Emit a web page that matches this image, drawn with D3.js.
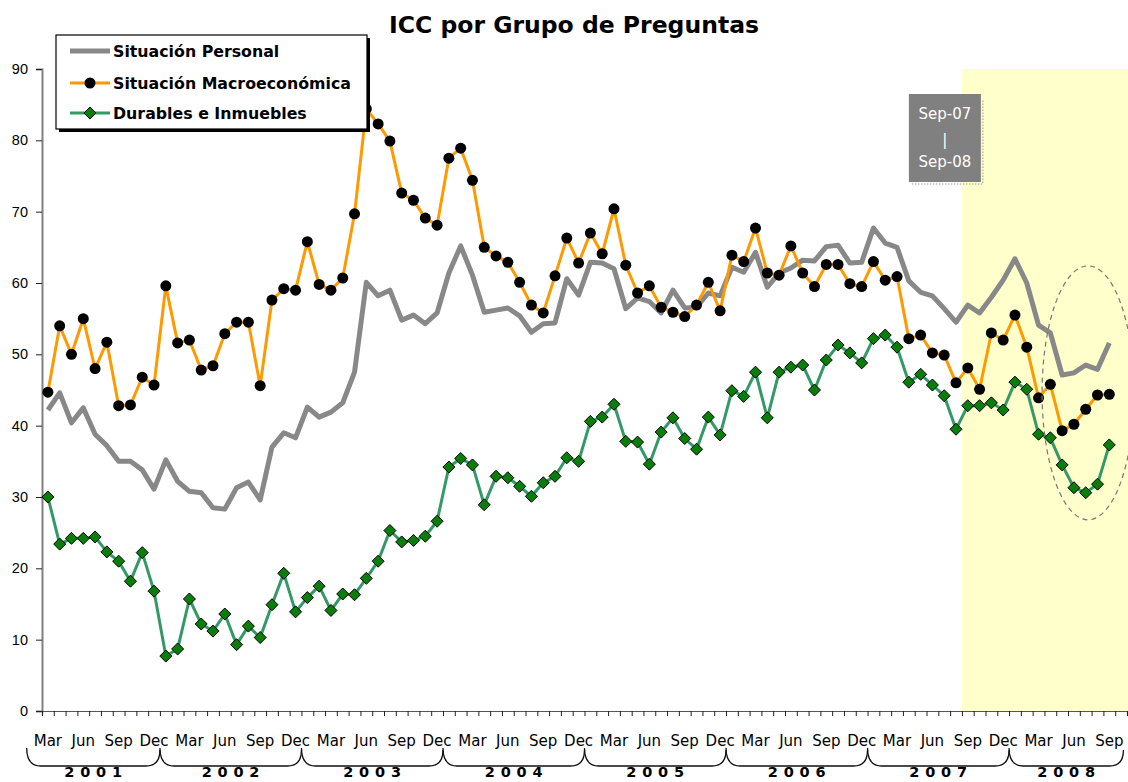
<!DOCTYPE html>
<html>
<head>
<meta charset="utf-8">
<script src="https://cdn.jsdelivr.net/npm/d3@7"></script>
<style>
  body { margin: 0; background: #fff; }
  svg { display: block; font-family: "DejaVu Sans", sans-serif; }
</style>
</head>
<body>
<div id="chart"></div>
<script>
// categories
const monthNames = ["Jan","Feb","Mar","Apr","May","Jun","Jul","Aug","Sep","Oct","Nov","Dec"];
const years = [2001, 2002, 2003, 2004, 2005, 2006, 2007, 2008];
const labelMonths = ["Mar", "Jun", "Sep", "Dec"];

// Mar 2001 .. Sep 2008
const personal = [
  42.2, 44.6, 40.4, 42.5, 38.8, 37.2, 35.0, 35.0, 33.8, 31.1,
  35.2, 32.2, 30.8, 30.6, 28.5, 28.3, 31.3, 32.1, 29.6, 37.0, 39.0, 38.3,
  42.6, 41.2, 41.9, 43.2, 47.5, 60.1, 58.2, 59.0, 54.8, 55.5, 54.3, 55.8,
  61.4, 65.2, 61.1, 55.9, 56.2, 56.5, 55.4, 53.1, 54.3, 54.4, 60.6, 58.3,
  62.9, 62.8, 62.0, 56.4, 57.9, 57.4, 55.8, 59.0, 56.5, 56.6, 58.6, 58.2,
  62.2, 61.5, 64.3, 59.4, 61.4, 62.1, 63.2, 63.1, 65.1, 65.3, 62.8, 62.9,
  67.7, 65.6, 65.0, 60.3, 58.7, 58.2, 56.4, 54.5, 56.9, 55.8, 58.0, 60.4,
  63.4, 60.0, 54.1, 53.0, 47.1, 47.4, 48.5, 47.9, 51.6
];
const macro = [
  44.7, 54.0, 50.0, 55.0, 48.0, 51.7, 42.8, 42.9, 46.8, 45.7,
  59.6, 51.6, 52.0, 47.8, 48.4, 52.9, 54.5, 54.5, 45.6, 57.6, 59.2, 59.0,
  65.8, 59.8, 59.0, 60.7, 69.7, 84.4, 82.3, 79.9, 72.6, 71.6, 69.1, 68.1,
  77.5, 78.9, 74.4, 65.0, 63.8, 62.9, 60.1, 56.9, 55.8, 61.0, 66.3, 62.8,
  67.0, 64.1, 70.4, 62.5, 58.6, 59.6, 56.6, 55.9, 55.3, 56.9, 60.1, 56.1,
  63.9, 63.0, 67.7, 61.4, 61.1, 65.2, 61.4, 59.5, 62.6, 62.6, 59.9, 59.5,
  63.0, 60.4, 60.9, 52.2, 52.7, 50.2, 49.9, 46.0, 48.1, 45.1, 53.0, 52.0,
  55.5, 51.0, 43.9, 45.8, 39.3, 40.2, 42.3, 44.3, 44.4
];
const durables = [
  30.0, 23.4, 24.2, 24.2, 24.4, 22.3, 21.0, 18.2, 22.2, 16.8,
  7.7, 8.7, 15.7, 12.2, 11.2, 13.6, 9.3, 11.9, 10.3, 14.9, 19.3, 13.9,
  15.9, 17.5, 14.1, 16.4, 16.3, 18.6, 21.0, 25.3, 23.7, 23.9, 24.5, 26.6,
  34.2, 35.4, 34.5, 28.9, 32.9, 32.7, 31.5, 30.1, 32.0, 32.9, 35.5, 35.0,
  40.6, 41.2, 43.0, 37.8, 37.7, 34.6, 39.1, 41.1, 38.2, 36.7, 41.2, 38.7,
  44.9, 44.1, 47.5, 41.1, 47.5, 48.2, 48.5, 45.0, 49.2, 51.3, 50.2, 48.8,
  52.2, 52.7, 51.0, 46.1, 47.2, 45.7, 44.2, 39.5, 42.8, 42.8, 43.2, 42.2,
  46.1, 45.1, 38.8, 38.3, 34.5, 31.3, 30.6, 31.8, 37.3
];
const seriesNames = ["Situación Personal", "Situación Macroeconómica", "Durables e Inmuebles"];
const highlightStart = "Sep-2007";
const boxLines = ["Sep-07", "|", "Sep-08"];

// build month categories, one empty slot left after the last value
const categories = [];
years.forEach(yr => monthNames.forEach((m, k) => categories.push({ key: m + "-" + yr, month: m, year: yr, k })));
const startIdx = categories.findIndex(c => c.key === "Mar-2001");
const cats = categories.slice(startIdx, startIdx + personal.length + 1);

const width = 1128, height = 782;
const margin = { left: 42, right: 1, top: 69, bottom: 71 };

const x = d3.scaleBand()
  .domain(cats.map(c => c.key))
  .range([margin.left, width - margin.right]);
const xi = d3.scaleLinear().domain([0, cats.length]).range(x.range());
const y = d3.scaleLinear().domain([0, 90]).range([height - margin.bottom, margin.top]);
const cx = i => x(cats[i].key) + x.bandwidth() / 2;

const svg = d3.select("#chart").append("svg")
  .attr("width", width).attr("height", height);

// highlighted period
svg.append("rect")
  .attr("x", x(highlightStart))
  .attr("y", y(90))
  .attr("width", x.range()[1] - x(highlightStart) + 5)
  .attr("height", y(0) - y(90))
  .attr("fill", "#ffffcc");

// title
svg.append("text")
  .attr("x", 574).attr("y", 33)
  .attr("text-anchor", "middle")
  .style("font-size", "23.5px").style("font-weight", "bold")
  .text("ICC por Grupo de Preguntas");

// y axis
const yAxis = svg.append("g")
  .attr("transform", `translate(${margin.left},0)`)
  .call(d3.axisLeft(y).tickValues(d3.range(0, 91, 10)).tickSize(6).tickPadding(8));
yAxis.select(".domain").attr("stroke", "#808080").attr("stroke-width", 2);
yAxis.selectAll(".tick line").attr("stroke", "#222");
yAxis.selectAll(".tick text").style("font-size", "14.5px").attr("fill", "#000");

// x axis: ticks on month boundaries
const xAxis = svg.append("g")
  .attr("transform", `translate(0,${y(0)})`)
  .call(d3.axisBottom(xi).tickValues(d3.range(0, cats.length + 1)).tickFormat("").tickSize(5));
xAxis.select(".domain").attr("stroke", "#555").attr("stroke-width", 1.2);
xAxis.selectAll(".tick line").attr("stroke", "#222");

// month labels
svg.append("g").selectAll("text")
  .data(cats.filter((c, i) => i < personal.length && labelMonths.includes(c.month)))
  .join("text")
  .attr("x", c => x(c.key) + x.bandwidth() / 2)
  .attr("y", 746)
  .attr("text-anchor", "middle")
  .style("font-size", "15px")
  .text(c => c.month);

// year braces
const bw = x.bandwidth();
const yearSpans = years.map(yr => {
  const inYear = cats.map((c, i) => ({ c, i })).filter(d => d.c.year === yr && d.i < personal.length);
  const first = inYear[0].i, last = inYear[inYear.length - 1].i;
  let xa = first === 0 ? cx(0) - bw * 1.8 : xi(first);
  let xb = yr === years[years.length - 1] ? cx(last) + bw * 1.2 : xi(last + 1);
  return { yr, xa, xb };
});
svg.append("g").selectAll("path")
  .data(yearSpans)
  .join("path")
  .attr("d", d => `M${d.xa},748 C${d.xa},760 ${d.xa + 4},766 ${d.xa + 14},766 L${d.xb - 14},766 C${d.xb - 4},766 ${d.xb},760 ${d.xb},750`)
  .attr("fill", "none").attr("stroke", "#111").attr("stroke-width", 1.3);
svg.append("g").selectAll("text")
  .data(yearSpans)
  .join("text")
  .attr("x", d => (d.xa + d.xb) / 2 + 2.8)
  .attr("y", 777)
  .attr("text-anchor", "middle")
  .style("font-size", "14.5px").style("font-weight", "bold").style("letter-spacing", "5.8px")
  .text(d => d.yr);

// lines
const line = d3.line().x((d, i) => cx(i)).y(d => y(d));
svg.append("path").datum(personal).attr("d", line)
  .attr("fill", "none").attr("stroke", "#888888").attr("stroke-width", 5).attr("stroke-linejoin", "round");
svg.append("path").datum(macro).attr("d", line)
  .attr("fill", "none").attr("stroke", "#ff9900").attr("stroke-width", 3).attr("stroke-linejoin", "round");
svg.append("g").selectAll("circle")
  .data(macro).join("circle")
  .attr("cx", (d, i) => cx(i)).attr("cy", d => y(d)).attr("r", 5.5).attr("fill", "#000");
svg.append("path").datum(durables).attr("d", line)
  .attr("fill", "none").attr("stroke", "#339966").attr("stroke-width", 3).attr("stroke-linejoin", "round");
const diamond = s => `M0,${-s} L${s},0 L0,${s} L${-s},0 Z`;
svg.append("g").selectAll("path")
  .data(durables).join("path")
  .attr("transform", (d, i) => `translate(${cx(i)},${y(d)})`)
  .attr("d", diamond(6))
  .attr("fill", "#0a7d0a").attr("stroke", "#000").attr("stroke-width", 1);

// ellipse around the last months
const n = personal.length;
svg.append("ellipse")
  .attr("cx", cx(n - 3) + bw * 0.2)
  .attr("cy", (y(62.4) + y(26.8)) / 2)
  .attr("rx", bw * 3.9)
  .attr("ry", (y(26.8) - y(62.4)) / 2)
  .attr("fill", "none").attr("stroke", "#777").attr("stroke-width", 1.2).attr("stroke-dasharray", "5,4");

// period box
const bx1 = x(highlightStart) + 19, bx0 = bx1 - 72;
const by0 = 94, by1 = 182;
svg.append("path")
  .attr("d", `M${bx0 + 3},${by1 + 2} L${bx1 + 2},${by1 + 2} L${bx1 + 2},${by0 + 6}`)
  .attr("fill", "none").attr("stroke", "#999").attr("stroke-dasharray", "1.5,1.5");
svg.append("rect")
  .attr("x", bx0).attr("y", by0).attr("width", bx1 - bx0).attr("height", by1 - by0)
  .attr("fill", "#808080");
svg.append("g").selectAll("text")
  .data(boxLines).join("text")
  .attr("x", (bx0 + bx1) / 2)
  .attr("y", (d, i) => [119, 145, 167][i])
  .attr("text-anchor", "middle")
  .attr("fill", "#fff")
  .style("font-size", "15px")
  .text(d => d);

// legend
const lg = svg.append("g");
lg.append("rect").attr("x", 59).attr("y", 38).attr("width", 311).attr("height", 94).attr("fill", "#000");
lg.append("rect").attr("x", 56).attr("y", 35).attr("width", 311).attr("height", 94)
  .attr("fill", "#fff").attr("stroke", "#000").attr("stroke-width", 1.2);
const legendY = [51, 83, 113];
const legendStyle = [
  { stroke: "#888888", w: 5, mark: null },
  { stroke: "#ff9900", w: 3, mark: "dot" },
  { stroke: "#339966", w: 3, mark: "diamond" }
];
seriesNames.forEach((name, i) => {
  const ly = legendY[i], st = legendStyle[i];
  lg.append("line").attr("x1", 70).attr("x2", 110).attr("y1", ly).attr("y2", ly)
    .attr("stroke", st.stroke).attr("stroke-width", st.w);
  if (st.mark === "dot") lg.append("circle").attr("cx", 90).attr("cy", ly).attr("r", 5.5).attr("fill", "#000");
  if (st.mark === "diamond") lg.append("path").attr("transform", `translate(90,${ly})`).attr("d", diamond(6))
    .attr("fill", "#0a7d0a").attr("stroke", "#000");
  lg.append("text").attr("x", 113).attr("y", ly + 6)
    .style("font-size", "15.8px").style("font-weight", "bold")
    .text(name);
});
</script>
</body>
</html>
